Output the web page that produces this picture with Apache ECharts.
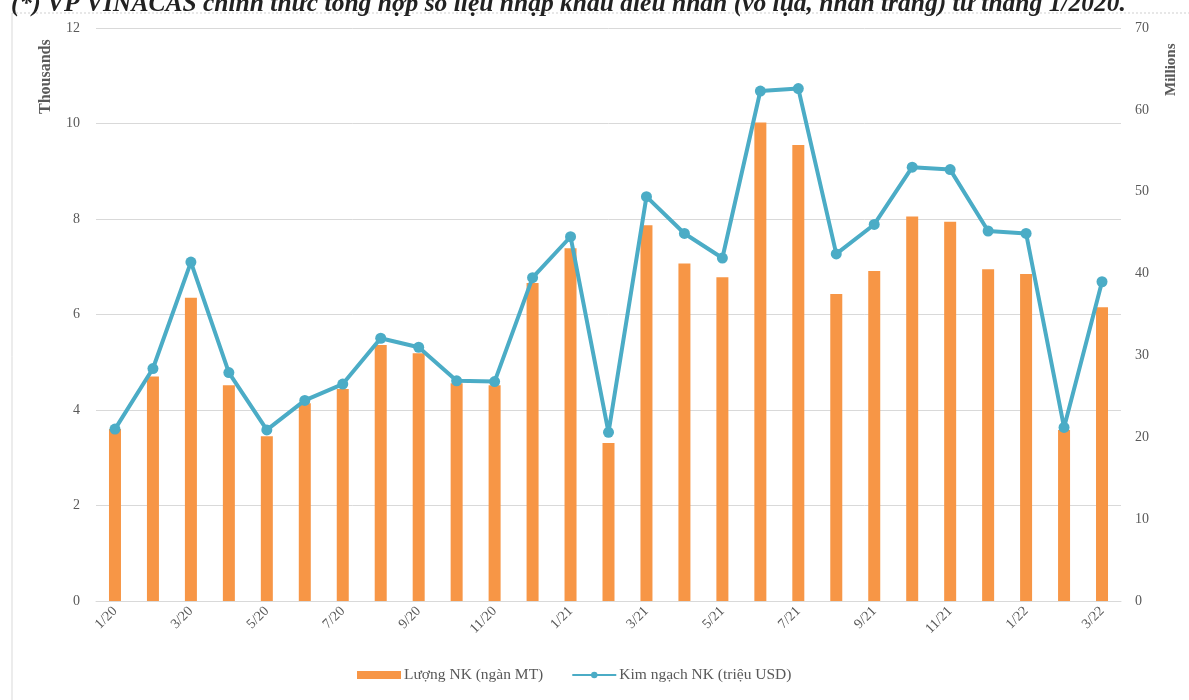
<!DOCTYPE html>
<html><head><meta charset="utf-8">
<script src="https://cdn.jsdelivr.net/npm/echarts@6/dist/echarts.min.js"></script>
<style>html,body{margin:0;padding:0;background:#fff}#c{width:1189px;height:700px}</style>
</head><body><div id="c"></div>
<script>
const categories = ['1/20','2/20','3/20','4/20','5/20','6/20','7/20','8/20','9/20','10/20','11/20','12/20',
 '1/21','2/21','3/21','4/21','5/21','6/21','7/21','8/21','9/21','10/21','11/21','12/21',
 '1/22','2/22','3/22'];
const volume = [3.6,4.7,6.35,4.52,3.45,4.14,4.44,5.36,5.19,4.56,4.52,6.66,
 7.39,3.31,7.87,7.07,6.78,10.02,9.55,6.43,6.91,8.05,7.94,6.95,6.85,3.58,6.15];
const value = [21.0,28.4,41.4,27.9,20.9,24.5,26.5,32.1,31.0,26.9,26.8,39.5,
 44.5,20.6,49.4,44.9,41.9,62.3,62.6,42.4,46.0,53.0,52.7,45.2,44.9,21.2,39.0];
const leftTicks = [0,2,4,6,8,10,12];
const rightTicks = [0,10,20,30,40,50,60,70];
const titleText = '(*) VP VINACAS chính thức tổng hợp số liệu nhập khẩu điều nhân (vỏ lụa, nhân trắng) từ tháng 1/2020.';

const serif = '"Liberation Serif", "DejaVu Serif", serif';
const chart = echarts.init(document.getElementById('c'));
chart.setOption({
  animation: false,
  title: { text: titleText, left: 6, top: -14,
    textStyle: { fontFamily: serif, fontStyle: 'italic', fontWeight: 'bold', fontSize: 25.5, color: '#222' } },
  grid: { left: 96, right: 68, top: 28, bottom: 99, containLabel: false },
  legend: {
    bottom: 12, left: 352, itemGap: 28, itemWidth: 44, itemHeight: 8,
    textStyle: { fontFamily: serif, fontSize: 15.5, color: '#595959', padding: [0, 0, 0, -2] },
    data: [
      { name: 'Lượng NK (ngàn MT)', icon: 'rect' },
      { name: 'Kim ngạch NK (triệu USD)' }
    ]
  },
  xAxis: {
    type: 'category', data: categories, boundaryGap: true,
    axisLine: { lineStyle: { color: '#d9d9d9', width: 1 } },
    axisTick: { show: false },
    axisLabel: { interval: 1, rotate: 45, fontFamily: serif, fontSize: 14, color: '#595959', margin: 8 }
  },
  yAxis: [
    { type: 'value', min: 0, max: 12, interval: 2,
      axisLine: { show: false }, axisTick: { show: false },
      splitLine: { lineStyle: { color: '#d9d9d9', width: 1 } },
      axisLabel: { fontFamily: serif, fontSize: 14, color: '#595959', margin: 16 } },
    { type: 'value', min: 0, max: 70, interval: 10,
      axisLine: { show: false }, axisTick: { show: false },
      splitLine: { show: false },
      axisLabel: { fontFamily: serif, fontSize: 14, color: '#595959', margin: 14 } }
  ],
  graphic: [
    { type: 'line', shape: { x1: 12, y1: 13, x2: 12, y2: 700 }, style: { stroke: '#d9d9d9', lineWidth: 1 } },
    { type: 'line', shape: { x1: 12, y1: 13, x2: 1189, y2: 13 }, style: { stroke: '#d0d0d0', lineWidth: 1, lineDash: [2, 2] } },
    { type: 'text', x: 38, y: 114, rotation: Math.PI / 2,
      style: { text: 'Thousands', fontFamily: serif, fontSize: 16, fontWeight: 'bold', fill: '#595959' } },
    { type: 'text', x: 1164, y: 96, rotation: Math.PI / 2,
      style: { text: 'Millions', fontFamily: serif, fontSize: 15, fontWeight: 'bold', fill: '#595959' } }
  ],
  series: [
    { name: 'Lượng NK (ngàn MT)', type: 'bar', data: volume, yAxisIndex: 0, barWidth: 12,
      itemStyle: { color: '#F79646' } },
    { name: 'Kim ngạch NK (triệu USD)', type: 'line', data: value, yAxisIndex: 1,
      symbol: 'circle', symbolSize: 11,
      lineStyle: { color: '#4BACC6', width: 4 },
      itemStyle: { color: '#4BACC6' } }
  ]
});
</script></body></html>
